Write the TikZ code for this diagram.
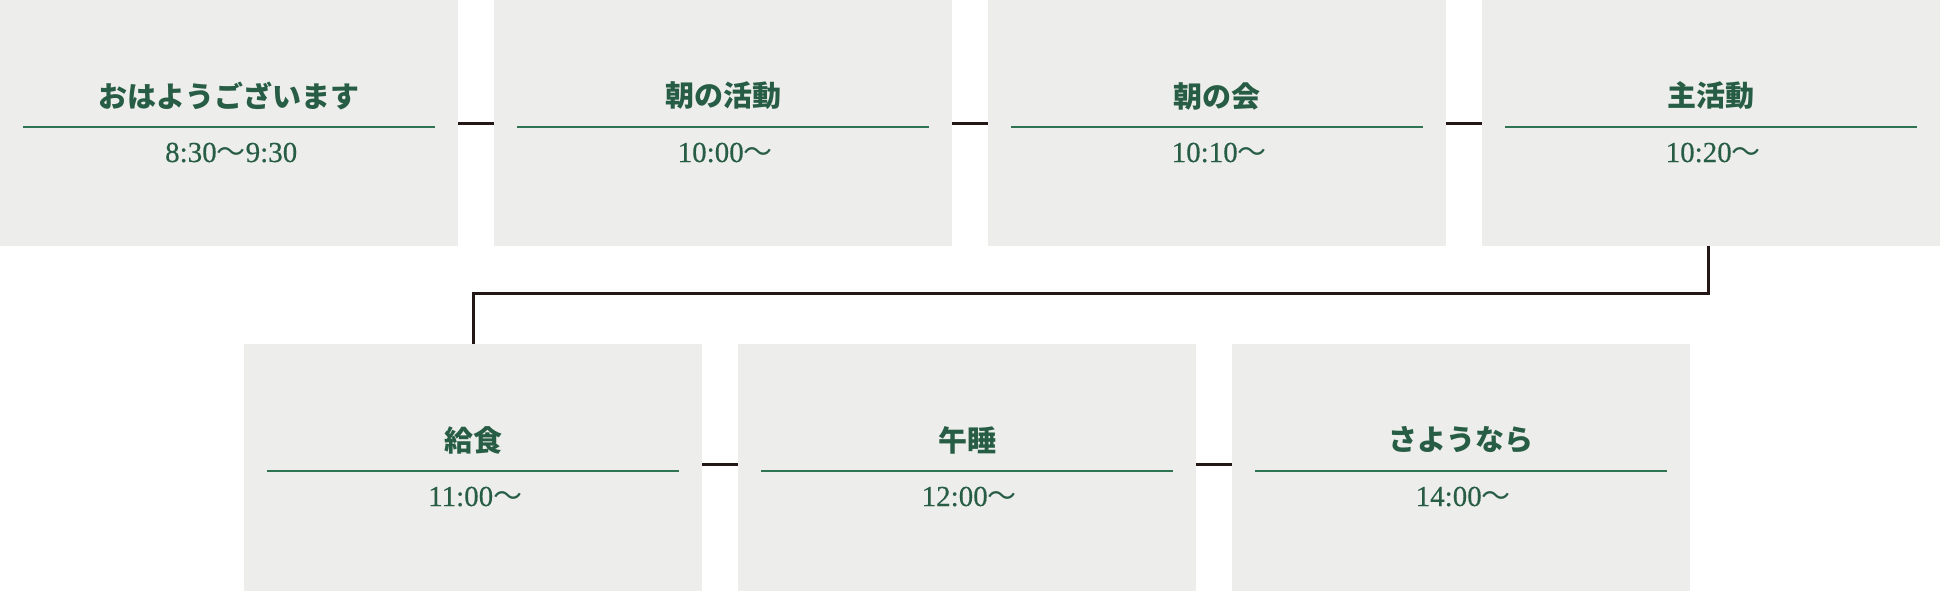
\documentclass[tikz,border=0pt]{standalone}
\usepackage{fontspec}
\setmainfont{Liberation Serif}
\newfontfamily\numfont{Liberation Serif}[FakeBold=0.4]
\newfontfamily\cjk{Noto Sans CJK JP}
\definecolor{boxfill}{HTML}{EDEEEB}
\definecolor{txtgreen}{HTML}{285D45}
\definecolor{linegreen}{HTML}{2E7352}
\definecolor{conn}{HTML}{231815}
\tikzset{
  stepbox/.style={rectangle, fill=boxfill, draw=none, minimum width=458pt, minimum height=246pt, inner sep=0pt, anchor=north west},
  lowbox/.style={stepbox, minimum height=247pt},
  titletext/.style={text=txtgreen, font=\cjk\bfseries\fontsize{29pt}{32pt}\selectfont, inner sep=0pt},
  timetext/.style={text=txtgreen, font=\numfont\fontsize{29pt}{32pt}\selectfont, inner sep=0pt, anchor=base},
  sepline/.style={draw=linegreen, line width=1.8pt},
  connline/.style={draw=conn, line width=3pt}
}
\newcommand{\wave}{{\cjk 〜}}
\begin{document}
\begin{tikzpicture}[x=1pt,y=-1pt]
\useasboundingbox (0,0) rectangle (1940,591);
% boxes top row
\node[stepbox] (b1) at (0,0) {};
\node[stepbox] (b2) at (494,0) {};
\node[stepbox] (b3) at (988,0) {};
\node[stepbox] (b4) at (1482,0) {};
% bottom row
\node[lowbox] (b5) at (244,344) {};
\node[lowbox] (b6) at (738,344) {};
\node[lowbox] (b7) at (1232,344) {};
% contents
\foreach \n/\t/\h in {b1/おはようございます/8:30\wave9:30, b2/朝の活動/10:00\wave, b3/朝の会/10:10\wave, b4/主活動/10:20\wave, b5/給食/11:00\wave, b6/午睡/12:00\wave, b7/さようなら/14:00\wave}{
  \node[titletext] (\n t) at ([yshift=-96pt]\n.north) {\t};
  \draw[sepline] ([xshift=23pt,yshift=-127pt]\n.north west) coordinate (\n sl) -- ([xshift=-23pt,yshift=-127pt]\n.north east) coordinate (\n sr);
  \node[timetext] (\n h) at ([xshift=2pt,yshift=-162pt]\n.north) {\h};
}
% connectors
\draw[connline] ([yshift=-124pt]b1.north east) -- ([yshift=-124pt]b2.north west);
\draw[connline] ([yshift=-124pt]b2.north east) -- ([yshift=-124pt]b3.north west);
\draw[connline] ([yshift=-124pt]b3.north east) -- ([yshift=-124pt]b4.north west);
\draw[connline] ([yshift=-120pt]b5.north east) -- ([yshift=-120pt]b6.north west);
\draw[connline] ([yshift=-120pt]b6.north east) -- ([yshift=-120pt]b7.north west);
\coordinate (mid) at (0,293.5);
\draw[connline] ([xshift=-3pt]b4.south) |- (mid -| b5.north) -- (b5.north);
\end{tikzpicture}
\end{document}
